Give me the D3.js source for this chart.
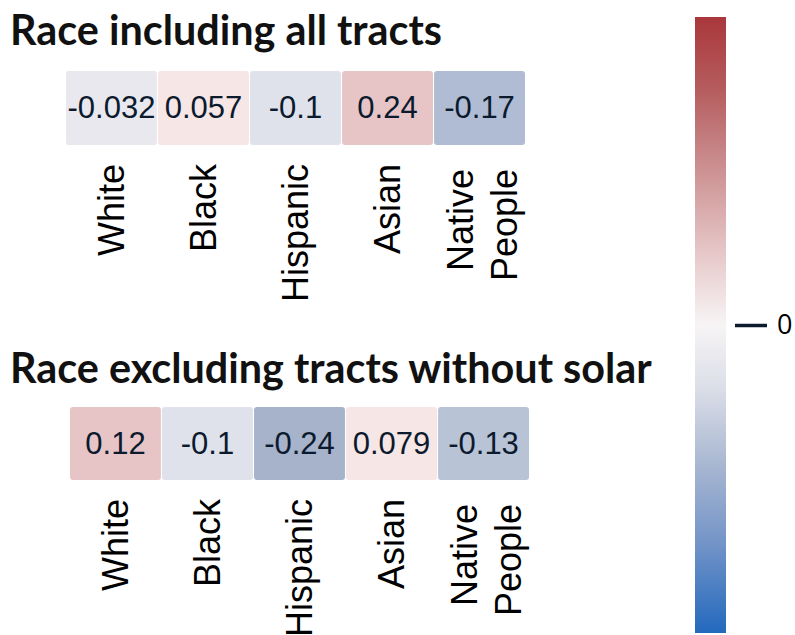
<!DOCTYPE html>
<html>
<head>
<meta charset="utf-8">
<script src="https://cdn.jsdelivr.net/npm/d3@7"></script>
<style>
  html, body { margin: 0; padding: 0; background: #fff; }
  svg { display: block; }
</style>
</head>
<body>
<svg id="chart" width="795" height="635"></svg>
<script>
// Correlation of each race group with the outcome, two variants of the tract set
const categories = ["White", "Black", "Hispanic", "Asian", "Native People"];
const valuesAllTracts = [-0.032, 0.057, -0.1, 0.24, -0.17];
const valuesSolarTracts = [0.12, -0.1, -0.24, 0.079, -0.13];
const panelTitles = ["Race including all tracts", "Race excluding tracts without solar"];
const colorbarTicks = [0];

// Binned diverging colours used for the cells
const cellThresholds = [-0.2, -0.15, -0.1, -0.05, 0, 0.1];
const cellColors = ["#a6b3cb", "#b0bcd3", "#b8c3d6", "#dfe2eb", "#e8e8ee", "#f6e6e6", "#e7c5c7"];

// Continuous diverging ramp for the colour bar (blue -> near white -> red)
const rampPositions = [0, 0.15, 0.28, 0.4, 0.5, 0.63, 0.77, 0.88, 1];
const rampColors = ["#2369bd", "#7595c8", "#abb9d2", "#dcdfe8", "#f7f4f5", "#e4c2c3", "#c98a8b", "#b65d5f", "#a9373b"];

const svg = d3.select("#chart");
const cellColor = d3.scaleThreshold().domain(cellThresholds).range(cellColors);

const panels = [
  { title: panelTitles[0], values: valuesAllTracts, titleY: 45, x0: 66, x1: 525, y0: 71, y1: 145 },
  { title: panelTitles[1], values: valuesSolarTracts, titleY: 383, x0: 70, x1: 529, y0: 407, y1: 480 }
];

const titleFont = "Lato, 'DejaVu Sans', sans-serif";
const bodyFont = "'Liberation Sans', Arial, sans-serif";

// Titles, sized so both share the same font size
const titleTargets = [432, 642];
const titleNodes = panels.map((p, i) =>
  svg.append("text")
    .attr("x", 10)
    .attr("y", p.titleY)
    .attr("font-family", titleFont)
    .attr("font-weight", 700)
    .attr("font-size", 30)
    .attr("fill", "#111")
    .text(p.title)
);
const fitSize = d3.mean(titleNodes, (n, i) => 30 * titleTargets[i] / n.node().getComputedTextLength());
titleNodes.forEach(n => n.attr("font-size", fitSize));

panels.forEach(p => {
  const x = d3.scaleBand().domain(categories).range([p.x0, p.x1]).paddingInner(0.012);
  const g = svg.append("g");

  g.selectAll("rect")
    .data(categories)
    .join("rect")
    .attr("x", d => x(d))
    .attr("y", p.y0)
    .attr("width", x.bandwidth())
    .attr("height", p.y1 - p.y0)
    .attr("rx", 3)
    .attr("fill", (d, i) => cellColor(p.values[i]));

  g.selectAll("text.val")
    .data(categories)
    .join("text")
    .attr("class", "val")
    .attr("x", d => x(d) + x.bandwidth() / 2)
    .attr("y", (p.y0 + p.y1) / 2 + 10)
    .attr("text-anchor", "middle")
    .attr("font-family", bodyFont)
    .attr("font-size", 31)
    .attr("fill", "#0c1a2e")
    .text((d, i) => String(p.values[i]));

  // Rotated category labels; multi-word labels wrap onto separate lines
  categories.forEach(c => {
    const lines = c.split(" ");
    const cx = x(c) + x.bandwidth() / 2;
    const endY = p.y1 + (lines.length > 1 ? 24 : 19);
    const t = g.append("text")
      .attr("transform", `translate(${cx},${endY}) rotate(-90)`)
      .attr("text-anchor", "end")
      .attr("font-family", bodyFont)
      .attr("font-size", 36)
      .attr("fill", "#000");
    const spacing = 44;
    const first = -(lines.length - 1) * spacing / 2 + (lines.length > 1 ? 3 : 0) + 12.6;
    lines.forEach((ln, k) => {
      t.append("tspan")
        .attr("x", 0)
        .attr("y", first + k * spacing)
        .text(ln);
    });
  });
});

// Colour bar
const cbX = 695, cbW = 31;
const cbScale = d3.scaleLinear().domain([-1, 1]).range([633, 17]);
const grad = svg.append("defs").append("linearGradient")
  .attr("id", "ramp")
  .attr("x1", 0).attr("y1", 1).attr("x2", 0).attr("y2", 0);
grad.selectAll("stop")
  .data(rampPositions)
  .join("stop")
  .attr("offset", d => d)
  .attr("stop-color", (d, i) => rampColors[i]);

svg.append("rect")
  .attr("x", cbX)
  .attr("y", cbScale(1))
  .attr("width", cbW)
  .attr("height", cbScale(-1) - cbScale(1))
  .attr("fill", "url(#ramp)");

const axis = d3.axisRight(cbScale)
  .tickValues(colorbarTicks)
  .tickSize(32)
  .tickPadding(10)
  .tickFormat(d3.format("d"));
const axisG = svg.append("g")
  .attr("transform", "translate(735,0)")
  .call(axis);
axisG.select(".domain").remove();
axisG.selectAll(".tick line").attr("stroke", "#0d1b2e").attr("stroke-width", 3.5);
axisG.selectAll(".tick text")
  .attr("font-family", "'Open Sans', 'Liberation Sans', sans-serif")
  .attr("font-size", 27)
  .attr("fill", "#000");
</script>
</body>
</html>
